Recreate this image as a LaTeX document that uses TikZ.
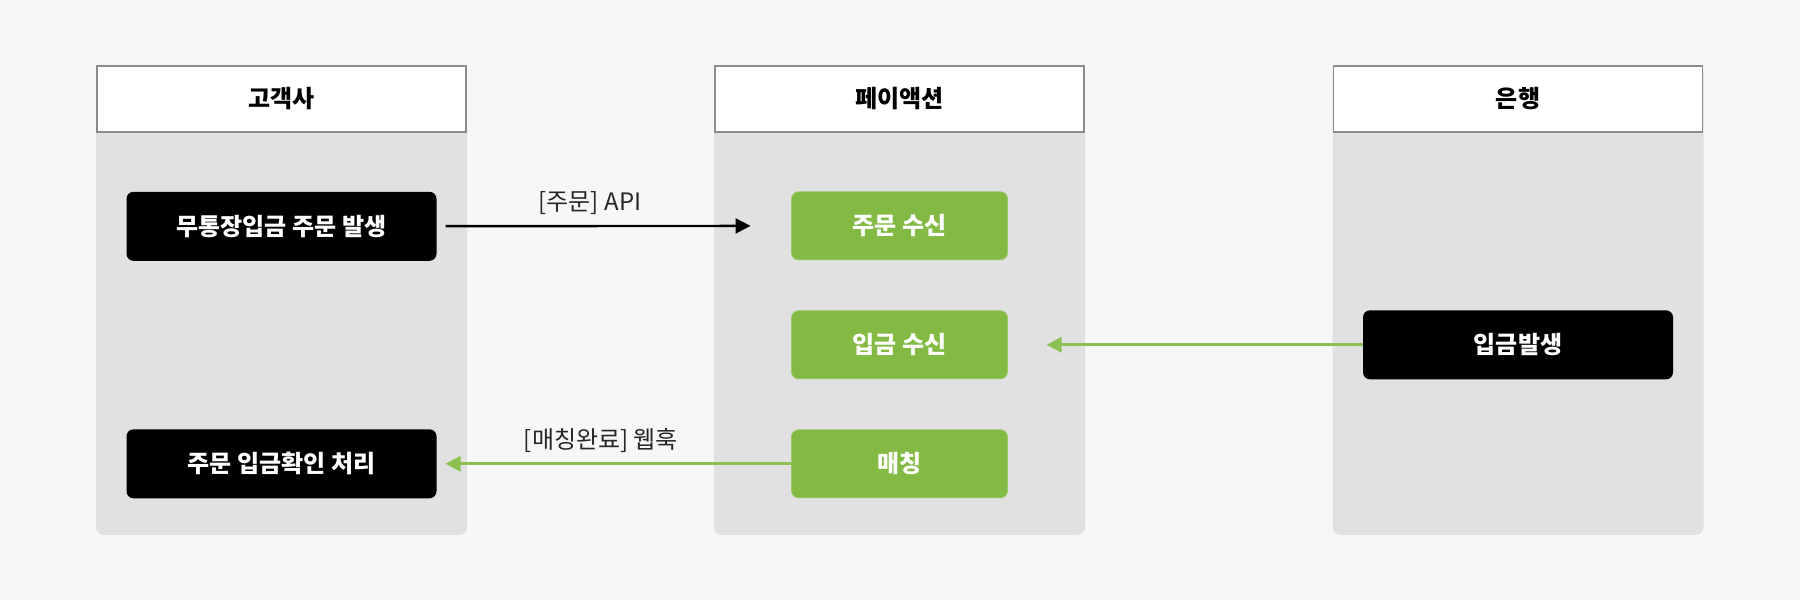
\documentclass[tikz,border=0pt]{standalone}
\usepackage{fontspec}
\setmainfont{Noto Sans CJK KR}
\usepackage{xcolor}
\usepackage{tikz}
\usetikzlibrary{arrows.meta, positioning}

\definecolor{pagebg}{HTML}{F7F7F7}
\definecolor{lanebg}{HTML}{E1E1E1}
\definecolor{laneline}{HTML}{8C8C8C}
\definecolor{paygreen}{HTML}{83BA44}
\definecolor{flowgreen}{HTML}{8CC152}

\begin{document}
\begin{tikzpicture}[x=1pt, y=-1pt, node distance=50pt,
    every node/.style={outer sep=0pt, inner sep=0pt, font=\fontsize{24}{28}\selectfont},
    lanebody/.style={rectangle, fill=lanebg, rounded corners=8pt, minimum width=371pt, minimum height=470pt},
    lanehead/.style={rectangle, draw=laneline, line width=1.6pt, fill=white, minimum width=369pt, minimum height=66pt, font=\fontsize{24}{28}\selectfont\bfseries},
    darkbox/.style={rectangle, fill=black, text=white, rounded corners=7pt, minimum width=310pt, minimum height=69pt, font=\fontsize{24}{28}\selectfont\bfseries},
    greenbox/.style={rectangle, fill=paygreen, draw=paygreen!80!white, line width=0.8pt, text=white, rounded corners=7pt, minimum width=216pt, minimum height=68pt, font=\fontsize{24}{28}\selectfont\bfseries},
    flow/.style={line width=2.4pt, -{Triangle[length=15pt, width=15pt]}},
    flowlabel/.style={text=black!85, font=\fontsize{24}{28}\selectfont}]

    \fill[pagebg] (0,0) rectangle (1800,600);

    % swimlanes
    \node[lanebody] (lane1) at (281.5,300) {};
    \node[lanebody] (lane2) at (899.5,300) {};
    \node[lanebody] (lane3) at (1518,300) {};
    \node[lanehead, below=0.8pt of lane1.north] (head1) {고객사};
    \node[lanehead, below=0.8pt of lane2.north] (head2) {페이액션};
    \node[lanehead, below=0.8pt of lane3.north] (head3) {은행};

    % steps
    \node[darkbox, below=60pt of head1] (order) {무통장입금 주문 발생};
    \node[greenbox, below=60pt of head2] (receive) {주문 수신};
    \node[greenbox, below=51pt of receive] (deposit) {입금 수신};
    \node[greenbox, below=51pt of deposit] (match) {매칭};
    \node[darkbox] (bankpay) at (head3 |- deposit) {입금발생};
    \node[darkbox] (confirm) at (head1 |- match) {주문 입금확인 처리};

    \draw[flow, black, shorten <=9pt, shorten >=41pt] (order) -- node[flowlabel, above=11pt, xshift=-24pt] (apilabel) {[주문] API} (receive);
    \draw[flow, flowgreen, line width=3pt, shorten >=39pt] (bankpay) -- (deposit);
    \draw[flow, flowgreen, line width=3pt, shorten >=9pt] (match) -- node[flowlabel, above=11pt, xshift=-13pt] (hooklabel) {[매칭완료] 웹훅} (confirm);
\end{tikzpicture}
\end{document}
